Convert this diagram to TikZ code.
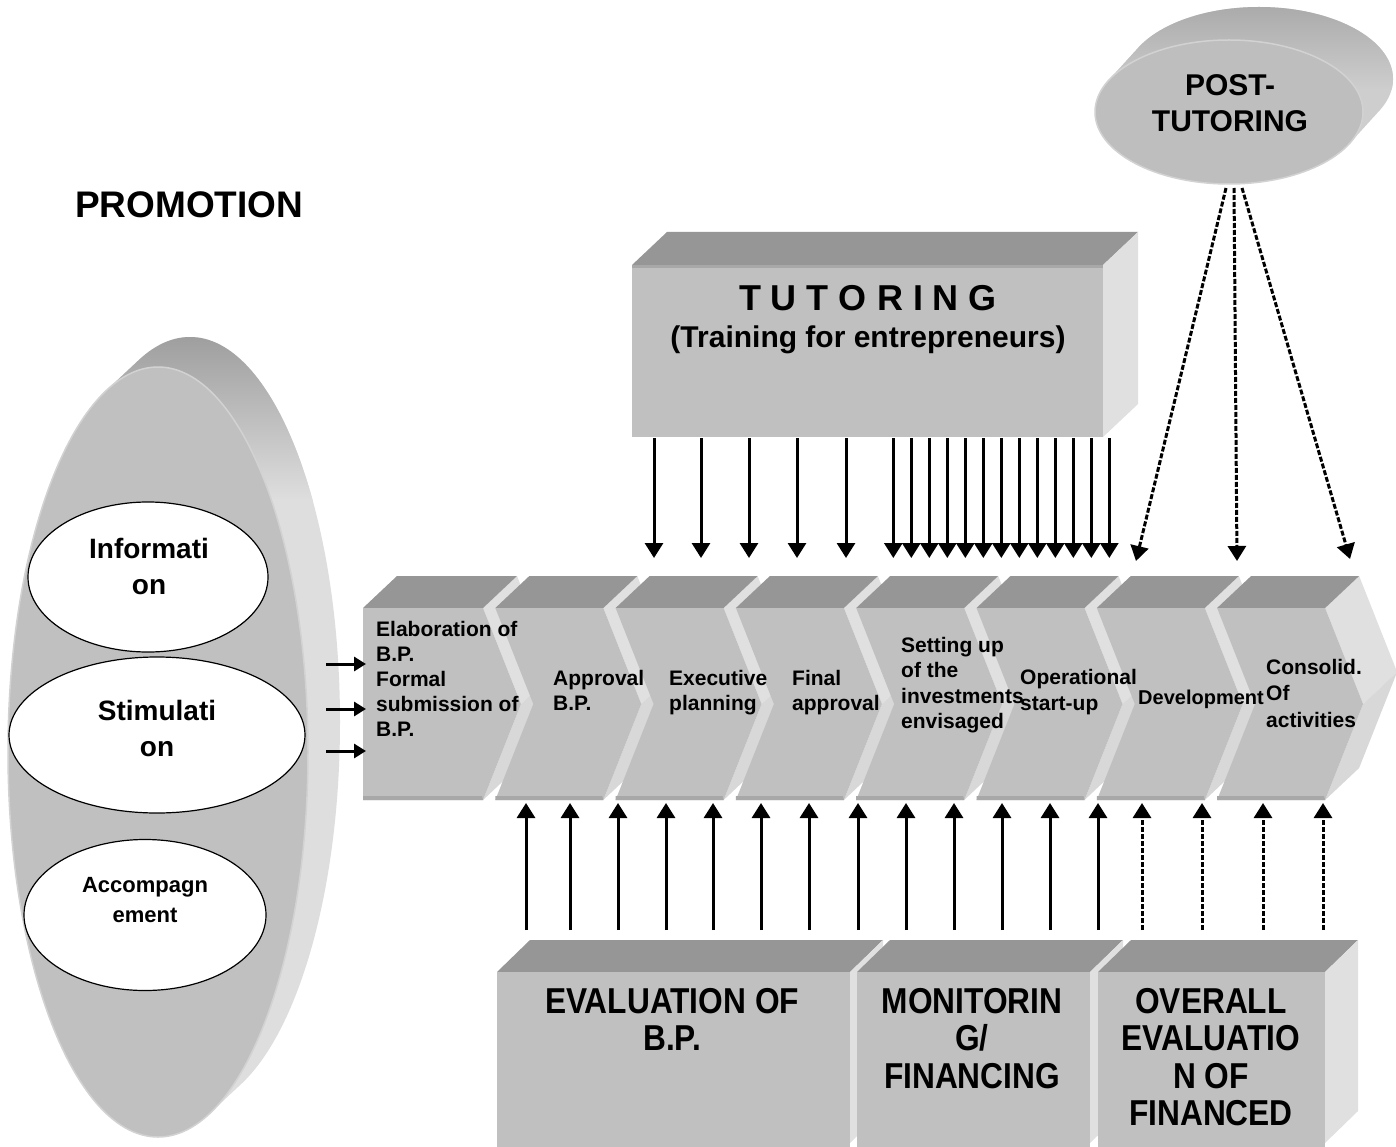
\documentclass[tikz,border=0pt]{standalone}
\usepackage{fontspec}
\setmainfont{Liberation Sans}
\newfontfamily\narrowfont[FakeStretch=0.88]{Liberation Sans}
\usetikzlibrary{arrows.meta,shapes.geometric}
\definecolor{topgray}{HTML}{969696}
\definecolor{frontgray}{HTML}{C0C0C0}
\definecolor{sidegray}{HTML}{E0E0E0}
\definecolor{lowside}{HTML}{D8D8D8}
\definecolor{edgegray}{HTML}{A8A8A8}
\definecolor{rimdark}{HTML}{9C9C9C}
\definecolor{rimlight}{HTML}{DEDEDE}
\definecolor{rimline}{HTML}{D2D2D2}
\definecolor{ptfront}{HTML}{BEBEBE}
\definecolor{ptrimdark}{HTML}{A8A8A8}
\definecolor{ptrimlight}{HTML}{CECECE}
\tikzset{
  arr/.style={line width=3pt, -{Triangle[width=18pt,length=15pt]}},
  darr/.style={arr, dash pattern=on 5pt off 2pt},
  sarr/.style={line width=3pt, -{Triangle[width=14pt,length=12pt]}},
  chlbl/.style={font=\fontsize{21}{25}\selectfont\bfseries, inner sep=0pt, align=left, anchor=base west},
  ovtext/.style={font=\fontsize{28}{36}\selectfont\bfseries, inner sep=0pt, align=center, anchor=base},
  boxtext/.style={font=\fontsize{36}{37.5}\selectfont\narrowfont\bfseries, inner sep=0pt, align=center, anchor=base},
  inov/.style={draw, ellipse, fill=white, line width=1.2pt, inner sep=0pt}
}
\begin{document}
\begin{tikzpicture}[x=1pt,y=-1pt]
\useasboundingbox (0,0) rectangle (1396,1147);
\fill[white] (0,0) rectangle (1396,1147);

% ---------- PROMOTION ----------
\node[font=\fontsize{37}{40}\selectfont\bfseries, anchor=base west, inner sep=0pt] (promo) at (75,218) {PROMOTION};

% ---------- big left ellipse (extruded) ----------
\begin{scope}
  \clip \foreach \i in {0,...,32} { (158+\i,752-\i*0.9375) ellipse [x radius=150, y radius=385] };
  \fill[rimlight] (0,300) rectangle (400,1147);
  \shade[top color=rimdark, bottom color=rimlight] (0,330) rectangle (400,500);
\end{scope}
\fill[frontgray, draw=rimline, line width=1.5pt] (158,752) ellipse [x radius=150, y radius=385];

\node[inov, minimum width=240, minimum height=150] (info) at (148,577) {};
\node[inov, minimum width=296, minimum height=156] (stim) at (157,735) {};
\node[inov, minimum width=242, minimum height=151] (acc) at (145,915) {};
% (base anchor of a multi-line node = baseline of its last line)
\node[ovtext] (infot) at (149,594) {Informati\\on};
\node[ovtext] (stimt) at (157,756) {Stimulati\\on};
\node[ovtext, font=\fontsize{22}{30}\selectfont\bfseries] (acct) at (145,922) {Accompagn\\ement};

% ---------- POST-TUTORING ellipse (extruded) ----------
\begin{scope}
  \clip \foreach \i in {0,...,30} { (1229+\i,112-\i*1.1) ellipse [x radius=134, y radius=72] };
  \fill[ptrimlight] (1080,0) rectangle (1396,200);
  \shade[top color=ptrimdark, bottom color=ptrimlight] (1080,0) rectangle (1396,90);
\end{scope}
\fill[ptfront, draw=rimline, line width=1.5pt] (1229,112) ellipse [x radius=134, y radius=72];
\node[font=\fontsize{30}{36}\selectfont\bfseries, inner sep=0pt, align=center, anchor=base] (post) at (1230,132) {POST-\\TUTORING};

% ---------- TUTORING box ----------
\fill[topgray] (632,265) -- (667,232) -- (1138,232) -- (1103,265) -- cycle;
\fill[sidegray] (1103,265) -- (1138,232) -- (1138,404) -- (1103,437) -- cycle;
\fill[frontgray] (632,265) rectangle (1103,437);
\fill[edgegray] (632,265) rectangle (1103,268);
\node[font=\fontsize{36}{40}\selectfont\bfseries, inner sep=0pt, anchor=base] (tut) at (868,310) {T U T O R I N G};
\node[font=\fontsize{30}{34}\selectfont\bfseries, inner sep=0pt, anchor=base] (tutsub) at (868,347) {(Training for entrepreneurs)};

% ---------- chevrons ----------
\foreach \k in {0,...,7} {
  \pgfmathsetmacro{\R}{483+120.3*\k}
  \pgfmathsetmacro{\L}{\k==0 ? 363 : \R-108}
  \pgfmathsetmacro{\N}{\k==0 ? 0 : 38}
  \fill[sidegray] (\R,608) -- (\R+34,576) -- (\R+72,672) -- (\R+38,704) -- cycle;
  \fill[lowside] (\R+38,704) -- (\R+72,672) -- (\R+34,768) -- (\R,800) -- cycle;
  \fill[topgray] (\L,608) -- (\L+34,576) -- (\R+34,576) -- (\R,608) -- cycle;
  \fill[frontgray] (\L,608) -- (\R,608) -- (\R+38,704) -- (\R,800) -- (\L,800) -- (\L+\N,704) -- cycle;
  \fill[edgegray] (\L,796) -- (\R-1,796) -- (\R,800) -- (\L,800) -- cycle;
}
\node[chlbl] (c1) at (376,736) {Elaboration of\\B.P.\\Formal\\submission of\\B.P.};
\node[chlbl] (c2) at (553,710) {Approval\\B.P.};
\node[chlbl] (c3) at (669,710) {Executive\\planning};
\node[chlbl] (c4) at (792,710) {Final\\approval};
\node[chlbl, font=\fontsize{21}{25.5}\selectfont\bfseries] (c5) at (901,728.5) {Setting up\\of the\\investments\\envisaged};
\node[chlbl, font=\fontsize{21}{26}\selectfont\bfseries] (c6) at (1020,710) {Operational\\start-up};
\node[chlbl, font=\fontsize{20}{24}\selectfont\bfseries] (c7) at (1138,704) {Development};
\node[chlbl, font=\fontsize{21}{26.5}\selectfont\bfseries] (c8) at (1266,727) {Consolid.\\Of\\activities};

% ---------- bottom boxes ----------
\fill[topgray] (497,972) -- (530,940) -- (883,940) -- (850,972) -- cycle;
\fill[sidegray] (850,972) -- (883,940) -- (883,1111) -- (850,1143) -- cycle;
\fill[frontgray] (497,972) rectangle (850,1147);
\fill[topgray] (857,972) -- (890,940) -- (1123,940) -- (1090,972) -- cycle;
\fill[sidegray] (1090,972) -- (1123,940) -- (1123,1111) -- (1090,1143) -- cycle;
\fill[frontgray] (857,972) rectangle (1090,1147);
\fill[topgray] (1098,972) -- (1131,940) -- (1358,940) -- (1325,972) -- cycle;
\fill[sidegray] (1325,972) -- (1358,940) -- (1358,1111) -- (1325,1143) -- cycle;
\fill[frontgray] (1098,972) rectangle (1325,1147);
\node[boxtext] (eval) at (672,1050.5) {EVALUATION OF\\B.P.};
\node[boxtext] (mon) at (972,1088) {MONITORIN\\G/\\FINANCING};
\node[boxtext] (over) at (1211,1125.5) {OVERALL\\EVALUATIO\\N OF\\FINANCED};

% ---------- arrows from TUTORING ----------
\foreach \x [count=\j] in {654,701,749,797,846} {
  \coordinate (ts\j) at (\x,438);
  \coordinate (te\j) at (\x,558);
  \draw[arr] (ts\j) -- (te\j);
}
\foreach \j in {0,...,12} {
  \coordinate (ds\j) at (893.3+18*\j,438);
  \coordinate (de\j) at (893.3+18*\j,558);
  \draw[arr] (ds\j) -- (de\j);
}

% ---------- dashed arrows from POST-TUTORING ----------
\coordinate (p1) at (1226,188); \coordinate (q1) at (1136,561);
\coordinate (p2) at (1234,188); \coordinate (q2) at (1237,561);
\coordinate (p3) at (1242,188); \coordinate (q3) at (1350,559);
\draw[darr] (p1) -- (q1);
\draw[darr] (p2) -- (q2);
\draw[darr] (p3) -- (q3);

% ---------- arrows from bottom boxes ----------
\foreach \x [count=\j] in {526,570,618,666,713,761,809,858,906,954,1002,1050,1098} {
  \coordinate (bs\j) at (\x,930);
  \coordinate (be\j) at (\x,803);
  \draw[arr] (bs\j) -- (be\j);
}
\foreach \x [count=\j] in {1142,1202,1263,1323} {
  \coordinate (fs\j) at (\x,930);
  \coordinate (fe\j) at (\x,803);
  \draw[darr] (fs\j) -- (fe\j);
}

% ---------- small arrows into the chevron row ----------
\foreach \y [count=\j] in {664,709,751} {
  \coordinate (ls\j) at (326,\y);
  \coordinate (le\j) at (366,\y);
  \draw[sarr] (ls\j) -- (le\j);
}
\end{tikzpicture}
\end{document}
